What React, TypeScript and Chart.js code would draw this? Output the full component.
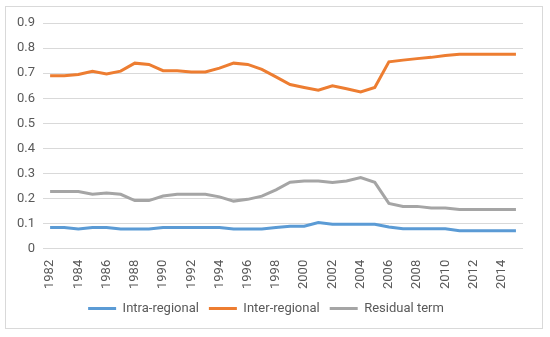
import React, { useEffect, useRef } from "react";
import { Chart, registerables } from "chart.js";

Chart.register(...registerables);

const years: string[] = [];
for (let y = 1982; y <= 2015; y++) years.push(String(y));

const intraRegional = [
  0.085, 0.085, 0.079, 0.085, 0.085, 0.079, 0.079, 0.079, 0.085, 0.085,
  0.085, 0.085, 0.085, 0.079, 0.079, 0.079, 0.085, 0.09, 0.09, 0.105,
  0.098, 0.098, 0.098, 0.098, 0.087, 0.08, 0.08, 0.08, 0.08, 0.072,
  0.072, 0.072, 0.072, 0.072,
];
const interRegional = [
  0.69, 0.69, 0.695, 0.708, 0.697, 0.708, 0.74, 0.735, 0.71, 0.71,
  0.705, 0.705, 0.72, 0.74, 0.735, 0.715, 0.685, 0.655, 0.643, 0.632,
  0.65, 0.638, 0.625, 0.643, 0.745, 0.752, 0.758, 0.763, 0.77, 0.775,
  0.775, 0.775, 0.775, 0.775,
];
const residualTerm = [
  0.228, 0.228, 0.228, 0.217, 0.222, 0.217, 0.192, 0.192, 0.21, 0.217,
  0.217, 0.217, 0.207, 0.19, 0.197, 0.21, 0.235, 0.265, 0.27, 0.27,
  0.264, 0.27, 0.284, 0.265, 0.181, 0.169, 0.169, 0.163, 0.163, 0.157,
  0.157, 0.157, 0.157, 0.157,
];
const yTicks = [0, 0.1, 0.2, 0.3, 0.4, 0.5, 0.6, 0.7, 0.8, 0.9];

export default function App() {
  const ref = useRef<HTMLCanvasElement>(null);
  useEffect(() => {
    document.body.style.margin = "0";
    const font = { family: "Roboto", size: 13 };
    const chart = new Chart(ref.current!, {
      type: "line",
      data: {
        labels: years,
        datasets: [
          { label: "Intra-regional", data: intraRegional, borderColor: "#5B9BD5", backgroundColor: "#5B9BD5", borderWidth: 3, pointRadius: 0, tension: 0 },
          { label: "Inter-regional", data: interRegional, borderColor: "#ED7D31", backgroundColor: "#ED7D31", borderWidth: 3, pointRadius: 0, tension: 0 },
          { label: "Residual term", data: residualTerm, borderColor: "#A5A5A5", backgroundColor: "#A5A5A5", borderWidth: 3, pointRadius: 0, tension: 0 },
        ],
      },
      options: {
        animation: false,
        responsive: false,
        layout: { padding: { left: 9, right: 27, top: 23, bottom: 12 } },
        plugins: {
          tooltip: { enabled: false },
          legend: {
            position: "bottom",
            labels: {
              usePointStyle: true,
              pointStyle: "line",
              pointStyleWidth: 28,
              color: "#595959",
              font,
              padding: 10,
            },
          },
        },
        scales: {
          x: {
            offset: true,
            grid: { display: false },
            border: { display: false },
            ticks: {
              color: "#595959",
              font,
              maxRotation: 90,
              minRotation: 90,
              autoSkip: false,
              callback: (v: any, i: number) => (i % 2 === 0 ? years[i] : ""),
            },
          },
          y: {
            min: 0,
            max: 0.9,
            afterBuildTicks: (s: any) => {
              s.ticks = yTicks.map((v) => ({ value: v }));
            },
            grid: { color: "#D9D9D9", drawTicks: false, lineWidth: 1 },
            border: { display: false },
            ticks: {
              color: "#595959",
              font,
              padding: 8,
              callback: (v: any) => String(Math.round(Number(v) * 10) / 10),
            },
          },
        },
      },
    });
    return () => chart.destroy();
  }, []);
  return (
    <div style={{ position: "relative", width: 550, height: 337, background: "#fff" }}>
      <div style={{ position: "absolute", left: 5, top: 6, width: 538, height: 323, border: "1px solid #D9D9D9", boxSizing: "border-box" }} />
      <canvas ref={ref} width={550} height={337} style={{ position: "absolute", left: 0, top: 0 }} />
    </div>
  );
}
